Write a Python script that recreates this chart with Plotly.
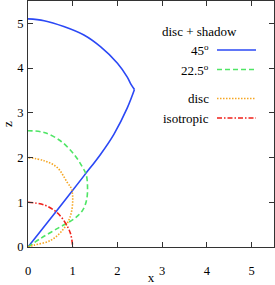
import plotly.graph_objects as go

# Data (x, z)
blue_line_x = [0.0, 0.62, 1.25, 1.62, 1.92, 2.22, 2.38]
blue_line_z = [0.0, 0.78, 1.59, 2.07, 2.52, 3.11, 3.52]
blue_arc_x = [2.38, 2.30, 2.22, 2.0, 1.62, 1.25, 0.80, 0.36, 0.0]
blue_arc_z = [3.52, 3.64, 3.80, 4.11, 4.48, 4.74, 4.93, 5.06, 5.10]

green_x = [0.0, 0.28, 0.65, 1.03, 1.22, 1.31, 1.33, 1.30, 1.21, 1.03, 0.73, 0.36, 0.0]
green_z = [0.0, 0.19, 0.41, 0.63, 0.82, 1.05, 1.37, 1.62, 1.80, 2.07, 2.37, 2.56, 2.60]

orange_x = [0.0, 0.13, 0.51, 0.80, 0.95, 1.0, 0.97, 0.88, 0.65, 0.36, 0.0]
orange_z = [0.0, 0.04, 0.15, 0.41, 0.70, 1.05, 1.30, 1.44, 1.78, 1.93, 2.0]

red_x = [0.0, 0.36, 0.65, 0.84, 0.95, 1.0]
red_z = [1.0, 0.94, 0.77, 0.53, 0.30, 0.0]

legend_title = "disc + shadow"
labels = ["45<sup>o</sup>", "22.5<sup>o</sup>", "disc", "isotropic"]
colors = ["#2b48f5", "#4fe565", "#f5a623", "#f0201a"]
dashes = ["solid", "5px,3px", "1.5px,1.5px", "5px,2px,1.5px,2px"]
legend_y = [50, 69.5, 98.5, 118]  # pixel rows of legend entries

series = [(blue_line_x, blue_line_z, 0), (blue_arc_x, blue_arc_z, 0),
          (green_x, green_z, 1), (orange_x, orange_z, 2), (red_x, red_z, 3)]

W, H = 275, 285
ML, MR, MT, MB = 28, 1, 1, 38

FAMILY = "Liberation Serif"
font = dict(family=FAMILY, size=13, color="black")
tfont = dict(family=FAMILY, size=12.5, color="black")

fig = go.Figure()
for xs, zs, k in series:
    fig.add_trace(go.Scatter(x=xs, y=zs, mode="lines",
                             line=dict(color=colors[k], width=1.6, dash=dashes[k],
                                       shape="spline", smoothing=1.0),
                             showlegend=False, hoverinfo="skip"))

def px2paper_y(py):
    return 1 - (py - MT) / (H - MT - MB)

def px2paper_x(px):
    return (px - ML) / (W - ML - MR)

fig.add_annotation(x=px2paper_x(199), y=px2paper_y(31), xref="paper", yref="paper",
                   text=legend_title, showarrow=False, font=font, xanchor="center", yanchor="middle")
for lab, c, d, py in zip(labels, colors, dashes, legend_y):
    fig.add_annotation(x=px2paper_x(211), y=px2paper_y(py), xref="paper", yref="paper",
                       text=lab, showarrow=False, font=font, xanchor="right", yanchor="middle")
    fig.add_shape(type="line", xref="paper", yref="paper",
                  x0=px2paper_x(217), x1=px2paper_x(256),
                  y0=px2paper_y(py), y1=px2paper_y(py),
                  line=dict(color=c, width=1.6, dash=d))

axis_common = dict(range=[0, 5.5], showgrid=False, zeroline=False, showline=True,
                   linecolor="#333333", linewidth=1, mirror="ticks", ticks="inside",
                   ticklen=5, tickwidth=1, tickcolor="#333333", dtick=1, tick0=0,
                   tickfont=tfont, automargin=False)

fig.update_layout(
    width=W, height=H,
    font=font,
    margin=dict(l=ML, r=MR, t=MT, b=MB, autoexpand=False),
    paper_bgcolor="white", plot_bgcolor="white",
    xaxis=dict(**axis_common, title=dict(text="x", font=font, standoff=0), ticklabelstandoff=12),
    yaxis=dict(**axis_common, title=dict(text="z", font=font, standoff=4), ticklabelstandoff=1),
    showlegend=False,
)

fig.write_html("out.html", config={"displayModeBar": False},
               post_script="document.body.style.margin='0px';")
